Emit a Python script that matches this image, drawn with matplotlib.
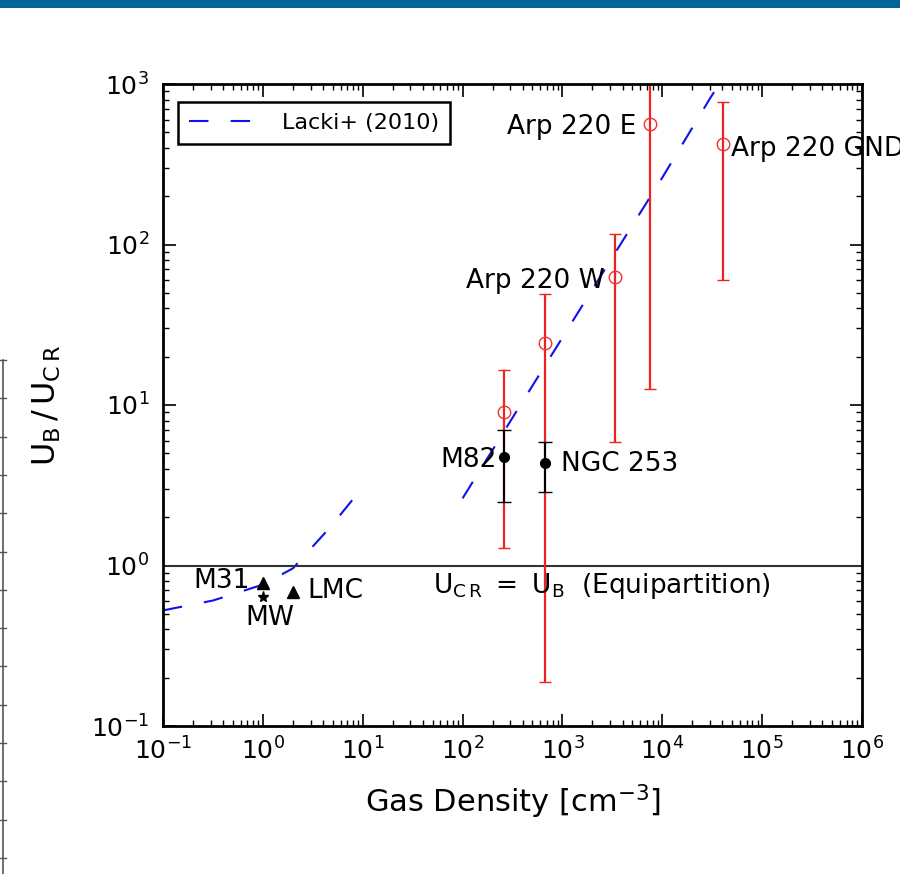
import matplotlib
matplotlib.use("Agg")
import matplotlib.pyplot as plt
from matplotlib.lines import Line2D
from matplotlib.patches import Rectangle
import numpy as np

plt.rcParams['font.family'] = ['DejaVu Sans']
plt.rcParams['mathtext.default'] = 'regular'
plt.rcParams['lines.scale_dashes'] = False

# ---- data ----
# Lacki+ (2010) model, two segments
lacki_lo_n = [0.1, 0.316, 1.0, 2.0, 4.68, 8.9]
lacki_lo_u = [0.525, 0.605, 0.76, 0.96, 1.72, 2.81]
lacki_hi_n = [100, 300, 1000, 3000, 10000, 30000, 100000]
lacki_hi_u = [2.62, 7.9, 26.3, 79, 261, 812, 2600]

# normal galaxies
tri_names = ['M31', 'LMC']
tri_n = [1.0, 2.0]
tri_u = [0.78, 0.68]
mw_n = [1.0]
mw_u = [0.64]

# starbursts, black points
blk_names = ['M82', 'NGC 253']
blk_n = [257, 676]
blk_u = [4.71, 4.38]
blk_lo = [2.50, 2.85]
blk_hi = [7.03, 5.84]

# red open circles
red_names = ['M82', 'NGC 253', 'Arp 220 W', 'Arp 220 E', 'Arp 220 GND']
red_n = [257, 676, 3390, 7590, 40700]
red_u = [8.98, 24.5, 62.3, 567, 420]
red_lo = [1.29, 0.189, 5.9, 12.5, 59.7]
red_hi = [16.6, 49.5, 117, 3000, 767]

W, H = 900, 874
fig = plt.figure(figsize=(W / 100, H / 100), dpi=100)

# page decorations
fig.add_artist(Rectangle((0, 1 - 8 / H), 1, 8 / H, transform=fig.transFigure,
                         facecolor='#006699', edgecolor='none'))
fig.add_artist(Line2D([3 / W, 3 / W], [0, 1 - 360 / H], transform=fig.transFigure,
                      color='#555555', lw=1.2))
for yy in np.arange(360, 874, 38.3):
    fig.add_artist(Line2D([0, 6 / W], [1 - yy / H, 1 - yy / H], transform=fig.transFigure,
                          color='#555555', lw=1.0))

ax = fig.add_axes([163 / W, 1 - 726 / H, (862 - 163) / W, (726 - 84) / H])
ax.set_xscale('log')
ax.set_yscale('log')
ax.set_xlim(1e-1, 1e6)
ax.set_ylim(1e-1, 1e3)

dash = (14, 16)
ln, = ax.plot(lacki_lo_n, lacki_lo_u, color='#1010ee', lw=1.5, dashes=dash,
              label='Lacki+ (2010)')
ax.plot(lacki_hi_n, lacki_hi_u, color='#1010ee', lw=1.5, dashes=dash)

ax.axhline(1.0, color='#333333', lw=1.5)

# red error bars
rn = np.array(red_n); ru = np.array(red_u)
ax.errorbar(rn, ru, yerr=[ru - np.array(red_lo), np.array(red_hi) - ru],
            fmt='o', mfc='none', mec='#ee3333', ms=9, mew=1.0,
            ecolor='#ee2222', elinewidth=1.6, capsize=4.5, capthick=1.4)

# black error bars
bn = np.array(blk_n); bu = np.array(blk_u)
ax.errorbar(bn, bu, yerr=[bu - np.array(blk_lo), np.array(blk_hi) - bu],
            fmt='o', color='black', ms=7, ecolor='black', elinewidth=1.5,
            capsize=5, capthick=1.0)

ax.plot(tri_n, tri_u, '^', color='black', ms=8, ls='none')
ax.plot(mw_n, mw_u, '*', color='black', ms=8, ls='none')

fs = 19
ax.text(0.74, 0.80, 'M31', fontsize=fs, ha='right', va='center')
ax.text(1.17, 0.47, 'MW', fontsize=fs, ha='center', va='center')
ax.text(2.82, 0.69, 'LMC', fontsize=fs, ha='left', va='center')
ax.text(219, 4.55, 'M82', fontsize=fs, ha='right', va='center')
ax.text(977, 4.3, 'NGC 253', fontsize=fs, ha='left', va='center')
ax.text(2630, 59, 'Arp 220 W', fontsize=fs, ha='right', va='center')
ax.text(5495, 536, 'Arp 220 E', fontsize=fs, ha='right', va='center')
ax.text(48980, 396, 'Arp 220 GND', fontsize=fs, ha='left', va='center', clip_on=False)
ax.text(50, 0.75, r'$U_{C\,R}\ =\ U_B$  (Equipartition)', fontsize=fs,
        ha='left', va='center')

leg = ax.legend(handles=[ln], loc='upper left', fontsize=16, frameon=True,
                fancybox=False, edgecolor='black', framealpha=1,
                handlelength=3.1, handletextpad=1.1, borderpad=0.5,
                bbox_to_anchor=(0.005, 0.99))
leg.get_frame().set_linewidth(1.8)

for s in ax.spines.values():
    s.set_linewidth(2.0)
ax.tick_params(which='both', direction='in', top=True, right=True, labelsize=18)
ax.tick_params(which='major', length=9, width=1.2)
ax.tick_params(which='minor', length=4.5, width=1.0)
ax.tick_params(axis='x', which='major', pad=8)
ax.tick_params(axis='y', which='major', pad=10)

ax.set_xticks([1e-1, 1, 1e1, 1e2, 1e3, 1e4, 1e5, 1e6])
ax.set_xticklabels([r'$10^{-1}$', r'$10^{0}$', r'$10^{1}$', r'$10^{2}$',
                    r'$10^{3}$', r'$10^{4}$', r'$10^{5}$', r'$10^{6}$'])
ax.set_yticks([1e-1, 1, 1e1, 1e2, 1e3])
ax.set_yticklabels([r'$10^{-1}$', r'$10^{0}$', r'$10^{1}$', r'$10^{2}$', r'$10^{3}$'])

ax.set_xlabel(r'Gas Density [cm$^{-3}$]', fontsize=22)
ax.xaxis.set_label_coords(0.5, -0.088)
ax.set_ylabel(r'$U_B\,/\,U_{C\,R}$', fontsize=23)
ax.yaxis.set_label_coords(-0.143, 0.5)

fig.savefig('out.png', dpi=100)
